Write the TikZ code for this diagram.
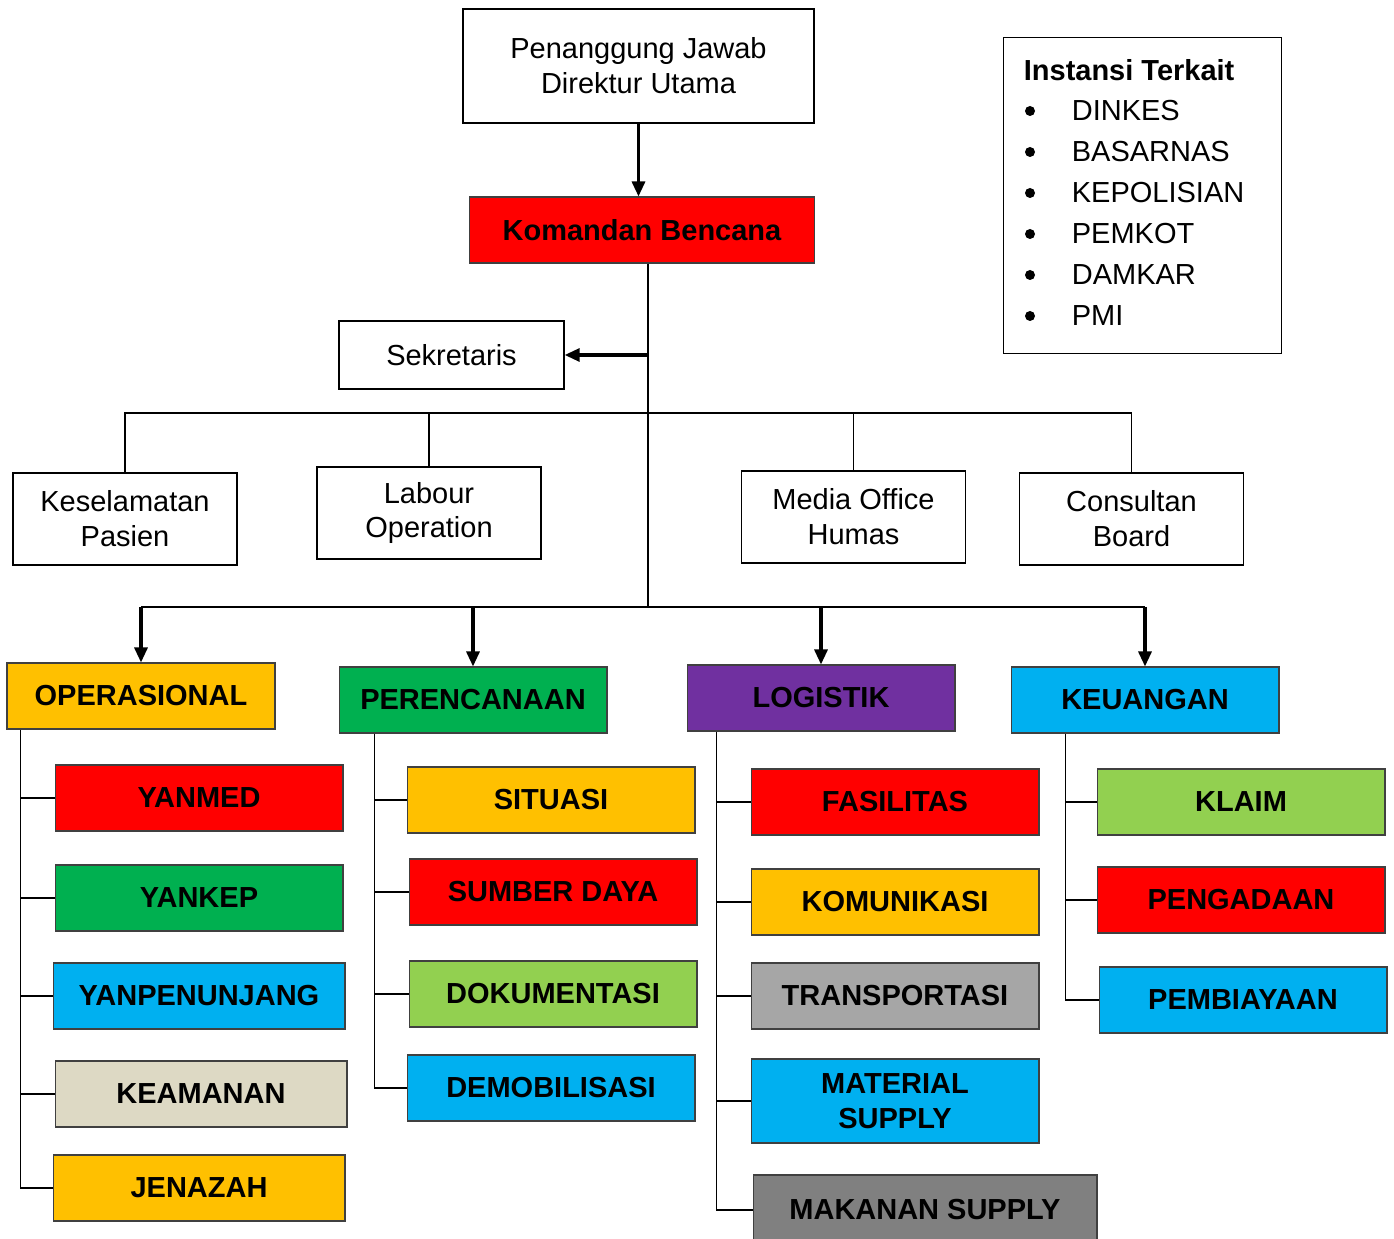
\documentclass[tikz,border=0pt]{standalone}
\usepackage{fontspec}
\setmainfont{Liberation Sans}
\usetikzlibrary{arrows.meta}
\definecolor{merah}{HTML}{FF0000}
\definecolor{oranye}{HTML}{FFC000}
\definecolor{hijau}{HTML}{00B050}
\definecolor{ungu}{HTML}{7030A0}
\definecolor{biru}{HTML}{00B0F0}
\definecolor{hijaumuda}{HTML}{92D050}
\definecolor{krem}{HTML}{DDD9C4}
\definecolor{abu}{HTML}{A6A6A6}
\definecolor{abutua}{HTML}{808080}

\begin{document}
\begin{tikzpicture}[x=0.02cm,y=-0.02cm,
  every node/.style={font=\fontsize{16.5}{19.9}\selectfont, align=center, inner sep=2pt},
  box/.style={draw, line width=0.8pt, minimum width=4.48cm, minimum height=1.84cm},
  unit/.style={draw=black!75, fill=#1, line width=0.6pt, minimum width=5.36cm, minimum height=1.32cm,
    font=\fontsize{16.5}{19.9}\selectfont\bfseries},
  subunit/.style={unit=#1, minimum width=5.76cm},
  line/.style={line width=0.8pt},
  arr/.style={line width=1.8pt, -{Triangle[length=0.3cm,width=0.26cm]}}]
\useasboundingbox (0,0) rectangle (1394,1239);

\node[box, minimum width=7.02cm, minimum height=2.28cm] (penanggung_jawab) at (638.5,66) {Penanggung Jawab\\Direktur Utama};
\node[unit=merah, minimum width=6.92cm] (komandan) at (642,230) {Komandan Bencana};
\node[box, minimum width=4.5cm, minimum height=1.36cm] (sekretaris) at (451.5,355) {Sekretaris};

\node[box] (keselamatan) at (125,519) {Keselamatan\\Pasien};
\node[box] (labour) at (429,513) {Labour\\Operation};
\node[box] (media) at (853.5,517) {Media Office\\Humas};
\node[box] (consultan) at (1131.5,519) {Consultan\\Board};

\node[unit=oranye] (operasional) at (141,696) {OPERASIONAL};
\node[unit=hijau] (perencanaan) at (473,700) {PERENCANAAN};
\node[unit=ungu] (logistik) at (821,698) {LOGISTIK};
\node[unit=biru] (keuangan) at (1145,700) {KEUANGAN};

\node[subunit=merah] (yanmed) at (199,798) {YANMED};
\node[subunit=hijau] (yankep) at (199,898) {YANKEP};
\node[subunit=biru, minimum width=5.84cm] (yanpenunjang) at (199,996) {YANPENUNJANG};
\node[subunit=krem, minimum width=5.84cm] (keamanan) at (201,1094) {KEAMANAN};
\node[subunit=oranye, minimum width=5.84cm] (jenazah) at (199,1188) {JENAZAH};

\node[subunit=oranye] (situasi) at (551,800) {SITUASI};
\node[subunit=merah] (sumber_daya) at (553,892) {SUMBER DAYA};
\node[subunit=hijaumuda] (dokumentasi) at (553,994) {DOKUMENTASI};
\node[subunit=biru] (demobilisasi) at (551,1088) {DEMOBILISASI};

\node[subunit=merah] (fasilitas) at (895,802) {FASILITAS};
\node[subunit=oranye] (komunikasi) at (895,902) {KOMUNIKASI};
\node[subunit=abu] (transportasi) at (895,996) {TRANSPORTASI};
\node[subunit=biru, minimum height=1.68cm] (material) at (895,1101) {MATERIAL\\SUPPLY};
\node[subunit=abutua, minimum width=6.88cm, minimum height=1.4cm] (makanan) at (925,1210) {MAKANAN SUPPLY};

\node[subunit=hijaumuda] (klaim) at (1241,802) {KLAIM};
\node[subunit=merah] (pengadaan) at (1241,900) {PENGADAAN};
\node[subunit=biru] (pembiayaan) at (1243,1000) {PEMBIAYAAN};

\node[draw, line width=0.8pt, anchor=north west, minimum width=5.56cm, minimum height=6.32cm] (instansi) at (1003,37) {};
\node[anchor=west, font=\fontsize{16.5}{19.9}\selectfont\bfseries] (instansi_judul) at (1020,70) {Instansi Terkait};
\foreach \nama [count=\i] in {DINKES,BASARNAS,KEPOLISIAN,PEMKOT,DAMKAR,PMI} {
  \fill (1030,{70+41*\i}) circle (5);
  \node[anchor=west] (instansi_\i) at (1068,{70+41*\i}) {\nama};
}

\coordinate (batang) at ([xshift=0.12cm]komandan.south);
\coordinate (bus_atas) at (batang |- 0,413);
\coordinate (bus_bawah) at (batang |- 0,607);

\draw[arr] (penanggung_jawab.south) -- (penanggung_jawab.south |- komandan.north);
\draw[line] (batang) -- (bus_bawah);
\draw[arr] (batang |- sekretaris.east) -- (sekretaris.east);
\draw[line] (keselamatan.north) |- (bus_atas) -| (consultan.north);
\draw[line] (labour.north) -- (labour.north |- bus_atas);
\draw[line] (media.north) -- (media.north |- bus_atas);
\draw[line] (operasional.north |- bus_bawah) -- (keuangan.north |- bus_bawah);
\foreach \n in {operasional,perencanaan,logistik,keuangan}
  \draw[arr] (\n.north |- bus_bawah) -- (\n.north);

\coordinate (ops_tulang) at ([xshift=0.28cm]operasional.south west);
\draw[line] (ops_tulang) |- (jenazah.west);
\foreach \n in {yanmed,yankep,yanpenunjang,keamanan}
  \draw[line] (\n.west) -- (\n.west -| ops_tulang);

\coordinate (ren_tulang) at ([xshift=0.72cm]perencanaan.south west);
\draw[line] (ren_tulang) |- (demobilisasi.west);
\foreach \n in {situasi,sumber_daya,dokumentasi}
  \draw[line] (\n.west) -- (\n.west -| ren_tulang);

\coordinate (log_tulang) at ([xshift=0.6cm]logistik.south west);
\draw[line] (log_tulang) |- (makanan.west);
\foreach \n in {fasilitas,komunikasi,transportasi,material}
  \draw[line] (\n.west) -- (\n.west -| log_tulang);

\coordinate (keu_tulang) at ([xshift=1.1cm]keuangan.south west);
\draw[line] (keu_tulang) |- (pembiayaan.west);
\foreach \n in {klaim,pengadaan}
  \draw[line] (\n.west) -- (\n.west -| keu_tulang);
\end{tikzpicture}
\end{document}
